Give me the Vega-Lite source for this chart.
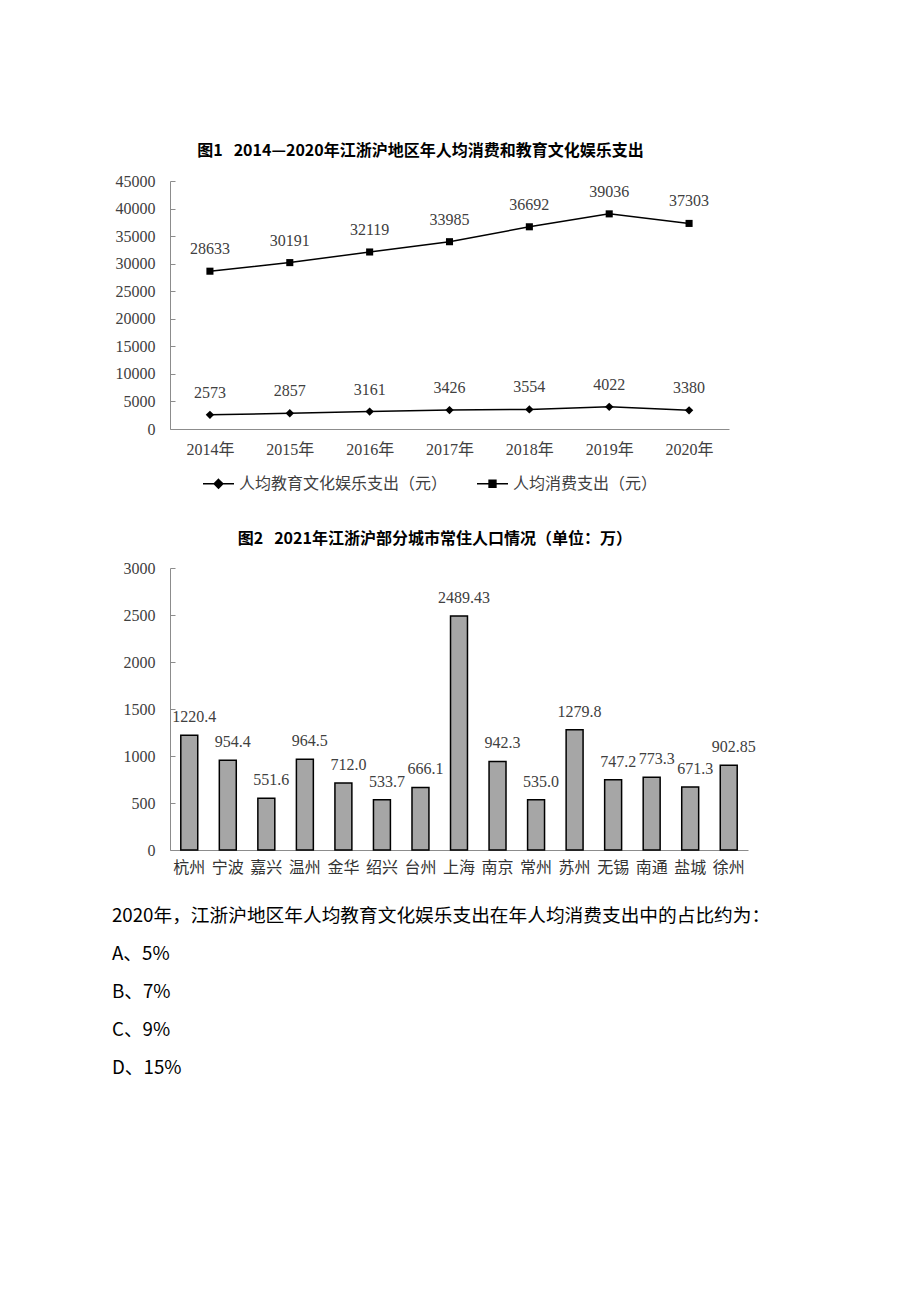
{
  "$schema": "https://vega.github.io/schema/vega-lite/v6.json",
  "background": "white",
  "padding": {"left": 112, "top": 143, "right": 10, "bottom": 10},
  "spacing": 22,
  "resolve": {"legend": {"color": "independent"}},
  "config": {
    "view": {"stroke": null},
    "axis": {"domainColor": "#8c8c8c", "tickColor": "#8c8c8c", "labelColor": "#404040", "labelFont": "Liberation Serif, Noto Sans CJK SC", "labelFontSize": 16, "grid": false, "title": null},
    "title": {"font": "Noto Sans CJK SC", "fontWeight": "bold", "fontSize": 16, "color": "#000000", "anchor": "middle", "frame": "bounds"}
  },
  "vconcat": [
    {
      "spacing": 39,
      "resolve": {"legend": {"color": "independent"}},
      "vconcat": [
        {
          "title": {"text": "图1\u00a0\u00a0\u00a02014—2020年江浙沪地区年人均消费和教育文化娱乐支出", "offset": 14},
          "width": 559,
          "height": 248,
          "data": {"values": [
            {"year": "2014年", "series": "人均教育文化娱乐支出（元）", "value": 2573},
            {"year": "2015年", "series": "人均教育文化娱乐支出（元）", "value": 2857},
            {"year": "2016年", "series": "人均教育文化娱乐支出（元）", "value": 3161},
            {"year": "2017年", "series": "人均教育文化娱乐支出（元）", "value": 3426},
            {"year": "2018年", "series": "人均教育文化娱乐支出（元）", "value": 3554},
            {"year": "2019年", "series": "人均教育文化娱乐支出（元）", "value": 4022},
            {"year": "2020年", "series": "人均教育文化娱乐支出（元）", "value": 3380},
            {"year": "2014年", "series": "人均消费支出（元）", "value": 28633},
            {"year": "2015年", "series": "人均消费支出（元）", "value": 30191},
            {"year": "2016年", "series": "人均消费支出（元）", "value": 32119},
            {"year": "2017年", "series": "人均消费支出（元）", "value": 33985},
            {"year": "2018年", "series": "人均消费支出（元）", "value": 36692},
            {"year": "2019年", "series": "人均消费支出（元）", "value": 39036},
            {"year": "2020年", "series": "人均消费支出（元）", "value": 37303}
          ]},
          "encoding": {
            "x": {"field": "year", "type": "ordinal", "sort": null, "scale": {"type": "point", "padding": 0.5}, "axis": {"labelAngle": 0, "ticks": false, "labelPadding": 12}},
            "y": {"field": "value", "type": "quantitative", "scale": {"domain": [0, 45000], "nice": false}, "axis": {"values": [0, 5000, 10000, 15000, 20000, 25000, 30000, 35000, 40000, 45000], "format": "d", "tickSize": -5, "labelPadding": 20, "minExtent": 58}}
          },
          "layer": [
            {
              "mark": {"type": "line", "strokeWidth": 1.5},
              "encoding": {
                "color": {"field": "series", "type": "nominal", "scale": {"domain": ["人均教育文化娱乐支出（元）", "人均消费支出（元）"], "range": ["#000000", "#000000"]},
                  "legend": {"title": null, "orient": "none", "legendX": 32, "legendY": 286, "direction": "horizontal", "labelFont": "Noto Sans CJK SC", "labelFontSize": 16, "labelColor": "#404040", "labelLimit": 400, "symbolSize": 961, "symbolStrokeWidth": 1.5, "columnPadding": 26, "labelOffset": 4,
                    "encode": {"symbols": {"update": {"shape": {"signal": "datum.value === '人均教育文化娱乐支出（元）' ? 'M-1,0L1,0M0,-0.28L0.28,0L0,0.28L-0.28,0Z' : 'M-1,0L1,0M-0.22,-0.22L0.22,-0.22L0.22,0.22L-0.22,0.22Z'"}, "fill": {"value": "#000000"}, "stroke": {"value": "#000000"}}}}}}
              }
            },
            {
              "transform": [{"filter": "datum.series === '人均教育文化娱乐支出（元）'"}],
              "mark": {"type": "point", "shape": "diamond", "filled": true, "size": 70, "opacity": 1, "color": "#000000"}
            },
            {
              "transform": [{"filter": "datum.series === '人均消费支出（元）'"}],
              "mark": {"type": "point", "shape": "square", "filled": true, "size": 50, "opacity": 1, "color": "#000000"}
            },
            {
              "mark": {"type": "text", "dy": -22, "fontSize": 16, "font": "Liberation Serif", "color": "#404040"},
              "encoding": {"text": {"field": "value", "type": "quantitative", "format": "d"}}
            }
          ]
        },
        {
          "title": {"text": "图2\u00a0\u00a0\u00a02021年江浙沪部分城市常住人口情况（单位：万）", "offset": 13},
          "width": 578,
          "height": 282,
          "data": {"values": [
            {"city": "杭州", "pop": 1220.4, "label": "1220.4"},
            {"city": "宁波", "pop": 954.4, "label": "954.4"},
            {"city": "嘉兴", "pop": 551.6, "label": "551.6"},
            {"city": "温州", "pop": 964.5, "label": "964.5"},
            {"city": "金华", "pop": 712.0, "label": "712.0"},
            {"city": "绍兴", "pop": 533.7, "label": "533.7"},
            {"city": "台州", "pop": 666.1, "label": "666.1"},
            {"city": "上海", "pop": 2489.43, "label": "2489.43"},
            {"city": "南京", "pop": 942.3, "label": "942.3"},
            {"city": "常州", "pop": 535.0, "label": "535.0"},
            {"city": "苏州", "pop": 1279.8, "label": "1279.8"},
            {"city": "无锡", "pop": 747.2, "label": "747.2"},
            {"city": "南通", "pop": 773.3, "label": "773.3"},
            {"city": "盐城", "pop": 671.3, "label": "671.3"},
            {"city": "徐州", "pop": 902.85, "label": "902.85"}
          ]},
          "encoding": {
            "x": {"field": "city", "type": "nominal", "sort": null, "scale": {"paddingInner": 0.56, "paddingOuter": 0.28}, "axis": {"labelAngle": 0, "tickSize": -5, "labelPadding": 14, "labelFont": "Noto Sans CJK SC", "labelFontSize": 16, "labelColor": "#333333"}},
            "y": {"field": "pop", "type": "quantitative", "scale": {"domain": [0, 3000], "nice": false}, "axis": {"values": [0, 500, 1000, 1500, 2000, 2500, 3000], "format": "d", "tickSize": -5, "labelPadding": 20, "minExtent": 56}}
          },
          "layer": [
            {"mark": {"type": "bar", "fill": "#a6a6a6", "stroke": "#000000", "strokeWidth": 1.5}},
            {"mark": {"type": "text", "dy": -18, "dx": 5, "fontSize": 16, "font": "Liberation Serif", "color": "#404040"}, "encoding": {"text": {"field": "label"}}}
          ]
        }
      ]
    },
    {
      "width": 650,
      "height": 190,
      "data": {"values": [
        {"line": 1, "text": "2020年，江浙沪地区年人均教育文化娱乐支出在年人均消费支出中的占比约为："},
        {"line": 2, "text": "A、5%"},
        {"line": 3, "text": "B、7%"},
        {"line": 4, "text": "C、9%"},
        {"line": 5, "text": "D、15%"}
      ]},
      "mark": {"type": "text", "align": "left", "baseline": "middle", "dx": -58, "font": "Noto Sans CJK SC", "fontSize": 18.7, "color": "#000000"},
      "encoding": {
        "y": {"field": "line", "type": "ordinal", "scale": {"type": "point", "padding": 0.5}, "axis": null},
        "x": {"datum": 0, "type": "quantitative", "scale": {"domain": [0, 1]}, "axis": null},
        "text": {"field": "text"}
      }
    }
  ]
}
